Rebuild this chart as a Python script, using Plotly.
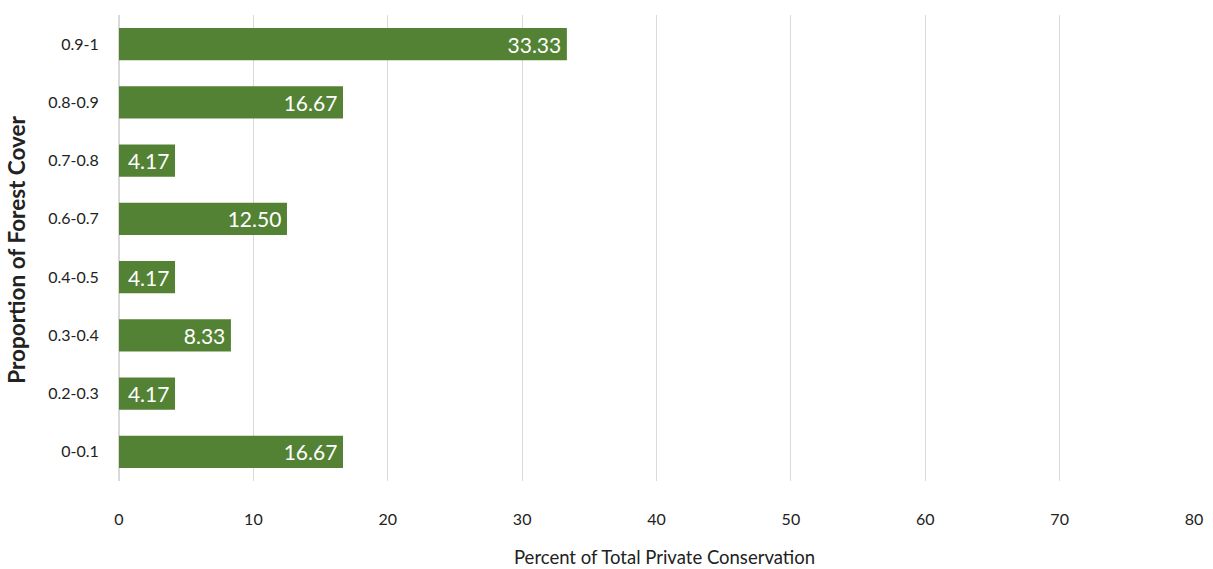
import plotly.graph_objects as go

# Forest cover classes (bottom to top) and share of total private conservation (%)
categories = ["0-0.1", "0.2-0.3", "0.3-0.4", "0.4-0.5", "0.6-0.7", "0.7-0.8", "0.8-0.9", "0.9-1"]
percent = [16.67, 4.17, 8.33, 4.17, 12.50, 4.17, 16.67, 33.33]
labels = ["16.67", "4.17", "8.33", "4.17", "12.50", "4.17", "16.67", "33.33"]
x_ticks = [0, 10, 20, 30, 40, 50, 60, 70, 80]

font_family = "Lato, 'Open Sans', sans-serif"
text_color = "#222222"

fig = go.Figure(
    go.Bar(
        y=categories,
        x=percent,
        orientation="h",
        text=[t + "\u2009" for t in labels],
        textposition="inside",
        insidetextanchor="end",
        textfont=dict(color="white", size=21, family=font_family),
        marker=dict(color="#548235", line=dict(width=0)),
        width=0.55,
        cliponaxis=False,
    )
)

fig.update_layout(
    width=1213,
    height=569,
    margin=dict(l=119, r=19, t=15, b=88),
    paper_bgcolor="white",
    plot_bgcolor="white",
    showlegend=False,
    font=dict(family=font_family, color=text_color),
)

fig.update_xaxes(
    range=[0, 80],
    tickvals=x_ticks,
    ticktext=[str(v) for v in x_ticks],
    tickfont=dict(size=16, color=text_color),
    showgrid=True,
    gridcolor="#d9d9d9",
    gridwidth=1,
    zeroline=True,
    zerolinecolor="#d9d9d9",
    showline=False,
    ticks="outside",
    ticklen=24,
    tickcolor="rgba(0,0,0,0)",
    automargin=False,
)

fig.update_yaxes(
    categoryorder="array",
    categoryarray=categories,
    tickfont=dict(size=16, color=text_color),
    showgrid=False,
    showline=False,
    ticks="outside",
    ticklen=16,
    tickcolor="rgba(0,0,0,0)",
    automargin=False,
)

# Axis titles
fig.add_annotation(
    text="Percent of Total Private Conservation",
    xref="paper", yref="paper",
    x=0.507, y=-0.163,
    xanchor="center", yanchor="middle",
    showarrow=False,
    font=dict(size=18.5, color=text_color),
)
fig.add_annotation(
    text="<b>Proportion of Forest Cover</b>",
    xref="paper", yref="paper",
    x=-0.095, y=0.496,
    xanchor="center", yanchor="middle",
    textangle=-90,
    showarrow=False,
    font=dict(size=22.5, color=text_color),
)

fig.write_html("out.html")
